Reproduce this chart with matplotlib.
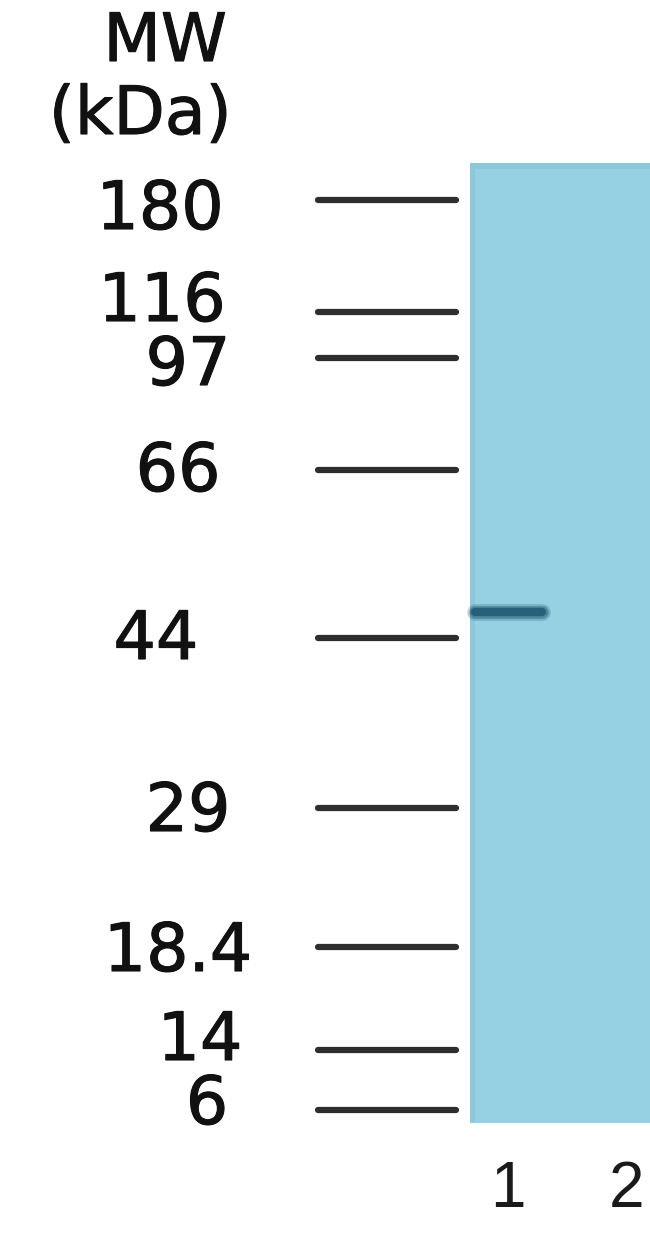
import numpy as np
import matplotlib.pyplot as plt
import matplotlib.patheffects as pe
from matplotlib.patches import Rectangle

# Marcadores de peso molecular (kDa) y su posicion de migracion en el gel
mw_labels = ['180', '116', '97', '66', '44', '29', '18.4', '14', '6']
mw_migration = [200, 312, 358, 470, 638, 808, 947, 1050, 1110]
# desplazamiento vertical/horizontal del texto respecto a la linea
label_dy = [10, -10, 8, 2, 2, 4, 5, -9, -5]
label_cx = [160, 162, 188, 178, 156, 188, 178, 200, 207]

# Banda detectada en el carril 1
band_lane = 1
band_migration = 612

lanes = ['1', '2']
lane_x = [508, 627]

fig = plt.figure(figsize=(6.5, 12.39), dpi=100)
ax = fig.add_axes([0, 0, 1, 1])
ax.set_xlim(0, 650)
ax.set_ylim(1239, 0)
ax.axis('off')

grueso = [pe.withStroke(linewidth=0.8, foreground='#111111')]

# membrana
ax.add_patch(Rectangle((470, 163), 180, 960, facecolor='#95d0e3', edgecolor='none'))
ax.add_patch(Rectangle((470, 163), 5, 960, facecolor='#8cc8dc', edgecolor='none'))
ax.add_patch(Rectangle((470, 163), 180, 6, facecolor='#8cc8dc', edgecolor='none'))

# lineas de marcadores y etiquetas
for lab, y, dy, cx in zip(mw_labels, mw_migration, label_dy, label_cx):
    ax.plot([318, 456], [y, y], color='#2e2e2e', lw=4.5, solid_capstyle='round')
    ax.text(cx, y + dy, lab, fontsize=48, ha='center', va='center',
            color='#111111', family='DejaVu Sans', path_effects=grueso)

ax.text(165, 42, 'MW', fontsize=48, ha='center', va='center', color='#111111',
        path_effects=grueso)
ax.text(140, 115, '(kDa)', fontsize=48, ha='center', va='center', color='#111111',
        path_effects=grueso)

# banda difusa
bx = lane_x[band_lane - 1]
for w, a in [(12, 0.25), (9, 0.45), (6, 0.8)]:
    ax.plot([bx - 33, bx + 34], [band_migration, band_migration], color='#1b5870',
            lw=w, alpha=a, solid_capstyle='round')

for lab, x in zip(lanes, lane_x):
    ax.text(x, 1190, lab, fontsize=46, ha='center', va='center',
            color='#1a1a1a', family='Liberation Sans')

plt.savefig('out.png', dpi=100)
